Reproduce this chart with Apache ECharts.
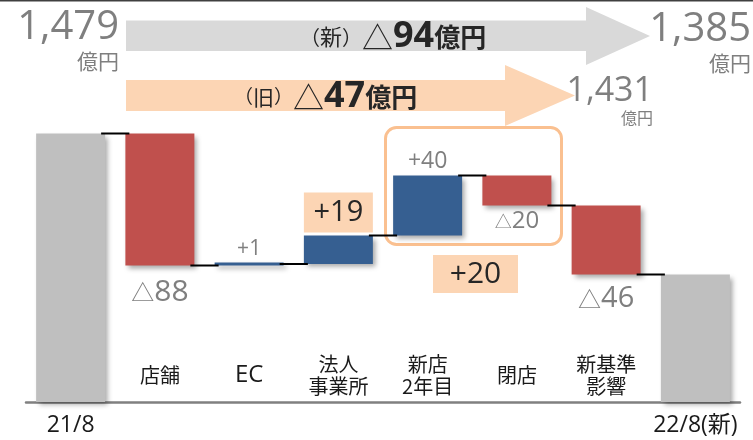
<!DOCTYPE html>
<html>
<head>
<meta charset="utf-8">
<script src="https://cdn.jsdelivr.net/npm/echarts@6/dist/echarts.min.js"></script>
<style>html,body{margin:0;padding:0;background:#fff;}#c{width:753px;height:440px;}</style>
</head>
<body>
<div id="c"></div>
<script>
// ---- data ----
const categories = ['21/8', '店舗', 'EC', '法人\n事業所', '新店\n2年目', '閉店', '新基準\n影響', '22/8(新)'];
const startValue = 1479;
const deltas = [-88, 1, 19, 40, -20, -46];
const endValue = 1385;
const oldValue = 1431;
const newDiff = -94;
const oldDiff = -47;
const groupDiff = 20;

// ---- build waterfall ----
const FONT = '"Open Sans", "Noto Sans CJK JP", sans-serif';
const JFONT = '"Noto Sans CJK JP", sans-serif';
const GRAY_TXT = '#7F7F7F';
let run = startValue;
const bases = [0], vals = [startValue], levels = [startValue], kinds = ['total'];
deltas.forEach(d => {
  bases.push(d < 0 ? run + d : run);
  vals.push(Math.abs(d));
  run += d;
  levels.push(run);
  kinds.push(d < 0 ? 'neg' : 'pos');
});
bases.push(0); vals.push(endValue); kinds.push('total');
const isTotal = kinds.map(k => k === 'total');
const colors = { total: '#BFBFBF', neg: '#C0504D', pos: '#365F91' };
const richDelta = d => (d < 0 ? '{s|△}{d|' + Math.abs(d) + '}' : '{d|+' + d + '}');
const fmtNum = v => v.toLocaleString('en-US');

// label styles per bar (index-based): s = symbol size, d = digit size
const labelCfg = {
  1: { position: 'bottom', distance: 12, s: 23, d: 30, color: GRAY_TXT },
  2: { position: 'top', distance: 3, s: 14, d: 21, color: GRAY_TXT },
  3: { position: 'top', distance: 3, s: 20, d: 29, color: '#262626', box: true },
  4: { position: 'top', distance: 3, s: 16, d: 23, color: GRAY_TXT },
  5: { position: 'bottom', distance: 4, s: 17, d: 24, color: GRAY_TXT },
  6: { position: 'bottom', distance: 10, s: 23, d: 29, color: GRAY_TXT }
};

const barData = vals.map((v, i) => {
  const item = {
    value: v,
    itemStyle: {
      color: colors[kinds[i]],
      shadowBlur: 5, shadowOffsetX: 3, shadowOffsetY: 3, shadowColor: 'rgba(0,0,0,0.35)'
    }
  };
  if (!isTotal[i]) {
    const c = labelCfg[i];
    item.label = {
      show: true, position: c.position, distance: c.distance,
      formatter: richDelta(deltas[i - 1]),
      rich: {
        s: { fontSize: c.s, fontFamily: JFONT, color: c.color },
        d: { fontSize: c.d, fontFamily: FONT, color: c.color }
      }
    };
    if (c.box) Object.assign(item.label, { backgroundColor: '#FCD5B4', width: 69, height: 40, lineHeight: 40, align: 'center' });
  }
  return item;
});

const connectorData = levels.map((v, i) => [i, v]);

const chart = echarts.init(document.getElementById('c'), null, { renderer: 'canvas' });
const BW = 69;
chart.setOption({
  animation: false,
  textStyle: { fontFamily: FONT },
  grid: { left: 26, right: 13, top: 42, bottom: 38 },
  xAxis: [
    {
      type: 'category', data: categories, position: 'bottom',
      axisLine: { lineStyle: { color: '#808080', width: 2.5 } },
      axisTick: { show: false },
      axisLabel: {
        interval: 0, margin: 12, color: '#1a1a1a', fontSize: 23, fontFamily: FONT,
        formatter: (v, i) => (isTotal[i] ? v : '')
      }
    },
    {
      type: 'category', data: categories, position: 'bottom',
      axisLine: { show: false }, axisTick: { show: false },
      axisLabel: {
        inside: true, interval: 0, margin: 27, fontSize: 20, lineHeight: 22,
        verticalAlign: 'middle', color: '#1a1a1a', fontFamily: JFONT,
        formatter: (v, i) => (isTotal[i] ? '' : (/^[A-Za-z]+$/.test(v) ? '{l|' + v + '}' : v)),
        rich: { l: { fontSize: 24, fontFamily: FONT, color: '#1a1a1a' } }
      }
    }
  ],
  yAxis: { type: 'value', min: 1300, max: 1540, show: false, splitLine: { show: false } },
  series: [
    {
      type: 'bar', stack: 'w', barWidth: BW, data: bases,
      itemStyle: { color: 'rgba(0,0,0,0)' }, silent: true
    },
    {
      type: 'bar', stack: 'w', barWidth: BW, barMinHeight: 3, data: barData
    },
    {
      type: 'custom', z: 5,
      data: connectorData,
      encode: { x: 0, y: 1 },
      renderItem: (params, api) => {
        const i = api.value(0), v = api.value(1);
        if (i >= categories.length - 1) return null;
        const p0 = api.coord([i, v]);
        const p1 = api.coord([i + 1, v]);
        return {
          type: 'line',
          shape: { x1: p0[0] + BW / 2 - 4, y1: p0[1], x2: p1[0] - BW / 2 + 4, y2: p1[1] },
          style: { stroke: '#000', lineWidth: 2 }
        };
      }
    }
  ],
  graphic: [
    { type: 'line', shape: { x1: 0, y1: 0.75, x2: 753, y2: 0.75 }, style: { stroke: '#404040', lineWidth: 1.5 } },
    { type: 'polygon', shape: { points: [[126, 20.5], [586, 20.5], [586, 7], [650, 36], [586, 65], [586, 51], [126, 51]] }, style: { fill: '#D9D9D9' } },
    { type: 'polygon', shape: { points: [[126, 80], [505, 80], [505, 65], [575, 95.5], [505, 126], [505, 111], [126, 111]] }, style: { fill: '#FCD5B4' } },
    {
      type: 'text', x: 300, y: 37,
      style: {
        text: '{p|（}{n|新}{p|）}{s|△}{b|' + Math.abs(newDiff) + '}{c|億円}',
        textVerticalAlign: 'middle', textAlign: 'left',
        rich: {
          p: { fontSize: 20, fontFamily: JFONT, fill: '#262626' },
          n: { fontSize: 22, fontFamily: JFONT, fill: '#262626' },
          s: { fontSize: 31, fontFamily: JFONT, fill: '#262626' },
          b: { fontSize: 36, fontWeight: 'bold', fontFamily: FONT, fill: '#262626' },
          c: { fontSize: 26, fontWeight: 'bold', fontFamily: JFONT, fill: '#262626' }
        }
      }
    },
    {
      type: 'text', x: 234, y: 97,
      style: {
        text: '{p|（}{n|旧}{p|）}{s|△}{b|' + Math.abs(oldDiff) + '}{c|億円}',
        textVerticalAlign: 'middle', textAlign: 'left',
        rich: {
          p: { fontSize: 19, fontFamily: JFONT, fill: '#262626' },
          n: { fontSize: 21, fontFamily: JFONT, fill: '#262626' },
          s: { fontSize: 31, fontFamily: JFONT, fill: '#262626' },
          b: { fontSize: 36, fontWeight: 'bold', fontFamily: FONT, fill: '#262626' },
          c: { fontSize: 26, fontWeight: 'bold', fontFamily: JFONT, fill: '#262626' }
        }
      }
    },
    { type: 'text', x: 119, y: 28, style: { text: fmtNum(startValue), font: '40px ' + FONT, fill: GRAY_TXT, textAlign: 'right', textVerticalAlign: 'middle' } },
    { type: 'text', x: 119, y: 61, style: { text: '億円', font: '21px ' + JFONT, fill: GRAY_TXT, textAlign: 'right', textVerticalAlign: 'middle' } },
    { type: 'text', x: 751, y: 30, style: { text: fmtNum(endValue), font: '40px ' + FONT, fill: GRAY_TXT, textAlign: 'right', textVerticalAlign: 'middle' } },
    { type: 'text', x: 751, y: 63.5, style: { text: '億円', font: '21px ' + JFONT, fill: GRAY_TXT, textAlign: 'right', textVerticalAlign: 'middle' } },
    { type: 'text', x: 653, y: 91, style: { text: fmtNum(oldValue), font: '34px ' + FONT, fill: GRAY_TXT, textAlign: 'right', textVerticalAlign: 'middle' } },
    { type: 'text', x: 653, y: 118, style: { text: '億円', font: '16px ' + JFONT, fill: GRAY_TXT, textAlign: 'right', textVerticalAlign: 'middle' } },
    { type: 'rect', shape: { x: 385.5, y: 127.5, width: 176, height: 117, r: 11 }, style: { fill: 'none', stroke: '#FAC090', lineWidth: 3 } },
    { type: 'rect', shape: { x: 433, y: 255, width: 85, height: 38 }, style: { fill: '#FCD5B4' } },
    { type: 'text', x: 475.5, y: 274, style: { text: '+' + groupDiff, font: '30px ' + FONT, fill: '#262626', textAlign: 'center', textVerticalAlign: 'middle' } }
  ]
});
</script>
</body>
</html>
